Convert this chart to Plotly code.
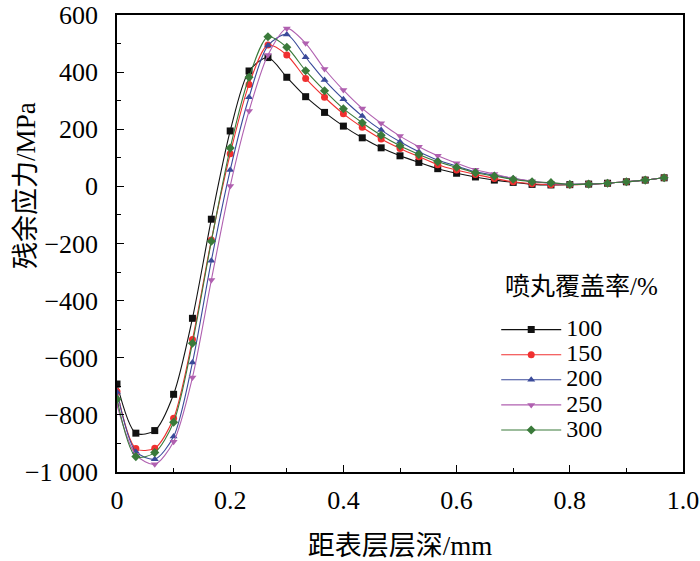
import plotly.graph_objects as go

# 距表层深度 (mm)
depth = [0.0, 0.0333, 0.0667, 0.1, 0.1333, 0.1667, 0.2, 0.2333, 0.2667, 0.3,
         0.3333, 0.3667, 0.4, 0.4333, 0.4667, 0.5, 0.5333, 0.5667, 0.6, 0.6333,
         0.6667, 0.7, 0.7333, 0.7667, 0.8, 0.8333, 0.8667, 0.9, 0.9333, 0.9667]

# 残余应力 (MPa), 各喷丸覆盖率
s100 = [-692, -864, -855, -728, -462, -115, 194, 404, 451, 382, 314, 259, 211, 170, 135,
        107, 84, 62, 46, 33, 22, 14, 7, 5, 6, 8, 11, 16, 22, 30]
s150 = [-718, -918, -917, -812, -536, -188, 114, 357, 495, 460, 378, 312, 254, 207, 166,
        133, 104, 76, 57, 42, 28, 16, 9, 6, 6, 8, 11, 16, 22, 30]
s200 = [-720, -929, -955, -876, -617, -260, 57, 312, 493, 532, 452, 372, 305, 246, 197,
        156, 121, 92, 71, 51, 39, 28, 17, 11, 7, 8, 11, 16, 22, 30]
s250 = [-765, -940, -973, -894, -669, -328, 1, 264, 460, 553, 501, 411, 337, 273, 221,
        176, 139, 107, 81, 58, 43, 28, 18, 11, 7, 8, 11, 16, 22, 30]
s300 = [-745, -946, -932, -826, -549, -192, 134, 382, 524, 487, 405, 335, 272, 223, 179,
        142, 112, 86, 67, 48, 36, 25, 16, 13, 7, 8, 11, 16, 22, 30]

series = [
    ("100", s100, "#111111", "square"),
    ("150", s150, "#f03030", "circle"),
    ("200", s200, "#3a4a9a", "triangle-up"),
    ("250", s250, "#b060b0", "triangle-down"),
    ("300", s300, "#3a7a3a", "diamond"),
]

ytick_vals = [-1000, -800, -600, -400, -200, 0, 200, 400, 600]
ytick_text = ["\u22121 000", "\u2212800", "\u2212600", "\u2212400", "\u2212200", "0", "200", "400", "600"]
xtick_vals = [0, 0.2, 0.4, 0.6, 0.8, 1.0]
xtick_text = ["0", "0.2", "0.4", "0.6", "0.8", "1.0"]

font_fam = "Liberation Serif, Noto Sans CJK SC"

fig = go.Figure()
for name, vals, col, sym in series:
    fig.add_trace(go.Scatter(
        x=depth, y=vals, mode="lines+markers",
        # legend row height follows legend font size; label drawn larger
        name="<span style='font-size:24px'>" + name + "</span>",
        line=dict(color=col, width=1.1, shape="spline", smoothing=0.8),
        marker=dict(symbol=sym, size=7, color=col),
    ))

axis_common = dict(
    showline=True, linecolor="black", linewidth=1.5, mirror=True,
    ticks="inside", ticklen=7, tickwidth=1.2, tickcolor="black",
    showgrid=False, zeroline=False, automargin=False,
    tickfont=dict(family=font_fam, size=26, color="black"),
)

fig.update_xaxes(
    range=[0, 1], tickvals=xtick_vals, ticktext=xtick_text,
    minor=dict(ticks="inside", ticklen=4, dtick=0.1, tick0=0, tickcolor="black"),
    ticklabelstandoff=4,
    title=dict(text="距表层层深/mm", font=dict(family=font_fam, size=27, color="black"), standoff=22),
    **axis_common,
)
fig.update_yaxes(
    range=[-1000, 600], tickvals=ytick_vals, ticktext=ytick_text,
    minor=dict(ticks="inside", ticklen=4, dtick=100, tick0=0, tickcolor="black"),
    ticklabelstandoff=12,
    **axis_common,
)

fig.add_annotation(
    text="残余应力/MPa", textangle=-90, showarrow=False,
    xref="paper", yref="paper", x=-0.161, y=0.628, xanchor="center", yanchor="middle",
    font=dict(family=font_fam, size=27, color="black"),
)
# 图例标题
fig.add_annotation(
    text="喷丸覆盖率/%", showarrow=False,
    xref="paper", yref="paper", x=0.682, y=0.405, xanchor="left", yanchor="middle",
    font=dict(family=font_fam, size=25, color="black"),
)

fig.update_layout(
    width=700, height=561,
    margin=dict(l=117, r=17, t=15, b=89),
    plot_bgcolor="white", paper_bgcolor="white",
    font=dict(family=font_fam, color="black"),
    legend=dict(
        x=0.67, y=0.35, xanchor="left", yanchor="top",
        font=dict(family=font_fam, size=17), itemwidth=60,
        bgcolor="rgba(0,0,0,0)", tracegroupgap=0,
    ),
)

fig.write_html("out.html", config={"displayModeBar": False},
               post_script="document.body.style.margin='0';")
